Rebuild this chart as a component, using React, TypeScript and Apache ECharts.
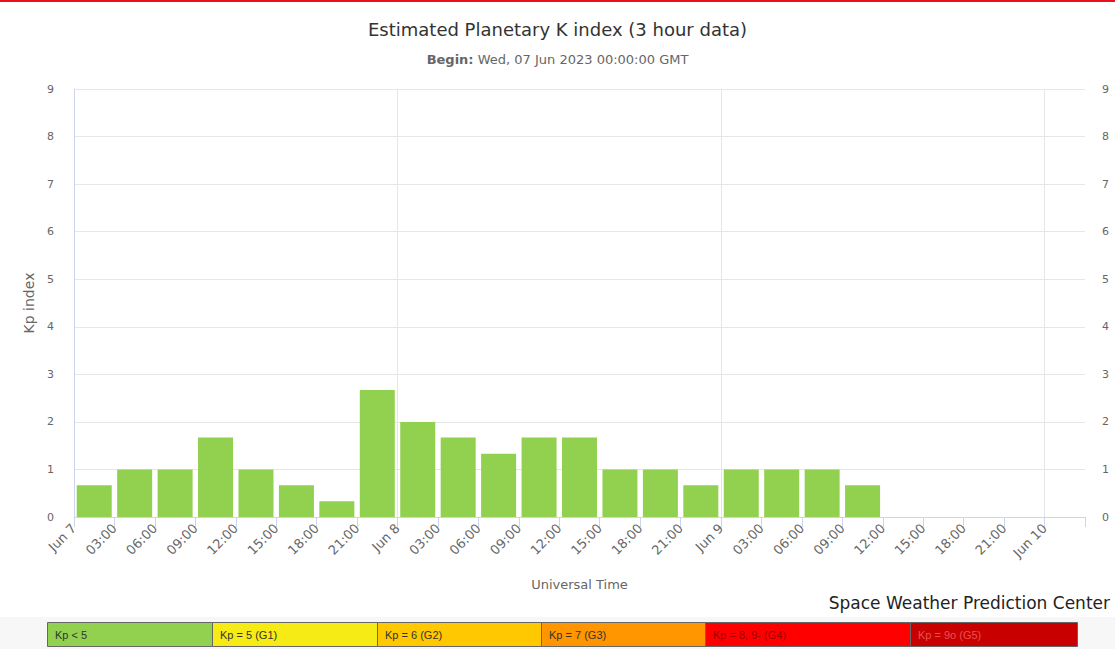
import React, { useEffect, useRef } from "react";
import * as echarts from "echarts";

const BEGIN = "2023-06-07T00:00:00Z";
const periodStarts = [
  "2023-06-07T00:00:00Z", "2023-06-07T03:00:00Z", "2023-06-07T06:00:00Z", "2023-06-07T09:00:00Z",
  "2023-06-07T12:00:00Z", "2023-06-07T15:00:00Z", "2023-06-07T18:00:00Z", "2023-06-07T21:00:00Z",
  "2023-06-08T00:00:00Z", "2023-06-08T03:00:00Z", "2023-06-08T06:00:00Z", "2023-06-08T09:00:00Z",
  "2023-06-08T12:00:00Z", "2023-06-08T15:00:00Z", "2023-06-08T18:00:00Z", "2023-06-08T21:00:00Z",
  "2023-06-09T00:00:00Z", "2023-06-09T03:00:00Z", "2023-06-09T06:00:00Z", "2023-06-09T09:00:00Z",
];
const kpValues = [
  0.67, 1, 1, 1.67, 1, 0.67, 0.33, 2.67,
  2, 1.67, 1.33, 1.67, 1.67, 1, 1, 0.67,
  1, 1, 1, 0.67,
];
const dayBoundaries = ["2023-06-08T00:00:00Z", "2023-06-09T00:00:00Z", "2023-06-10T00:00:00Z"];
const xTickLabels = [
  "Jun 7", "03:00", "06:00", "09:00", "12:00", "15:00", "18:00", "21:00",
  "Jun 8", "03:00", "06:00", "09:00", "12:00", "15:00", "18:00", "21:00",
  "Jun 9", "03:00", "06:00", "09:00", "12:00", "15:00", "18:00", "21:00",
  "Jun 10", "",
];
const yTickLabels = ["0", "1", "2", "3", "4", "5", "6", "7", "8", "9"];
const bandLabels = ["Kp < 5", "Kp = 5 (G1)", "Kp = 6 (G2)", "Kp = 7 (G3)", "Kp = 8, 9- (G4)", "Kp = 9o (G5)"];

const bandColors = ["#92d050", "#f6eb14", "#ffc800", "#ff9600", "#ff0000", "#c80000"];
const bandTextColors = ["#333333", "#333333", "#333333", "#333333", "#a00000", "#e85050"];
const bandEdges = [47, 212, 377, 541, 705, 910, 1077];

const HOUR = 3600000;

export default function App() {
  const ref = useRef<HTMLDivElement>(null);
  useEffect(() => {
    if (!ref.current) return;
    const chart = echarts.init(ref.current, undefined, { renderer: "svg" });
    const t0 = Date.parse(BEGIN);
    const barData = periodStarts.map((s, i) => [(Date.parse(s) - t0) / HOUR + 1.5, kpValues[i]]);
    const dayLines = dayBoundaries.map((s) => ({ xAxis: (Date.parse(s) - t0) / HOUR }));

    const bandGraphics: any[] = [];
    bandLabels.forEach((lab, i) => {
      const x0 = bandEdges[i];
      const x1 = bandEdges[i + 1];
      bandGraphics.push({
        type: "rect",
        shape: { x: x0 + 0.5, y: 622.5, width: x1 - x0, height: 24 },
        style: { fill: bandColors[i], stroke: "#666", lineWidth: 1 },
      });
      bandGraphics.push({
        type: "text",
        x: x0 + 8,
        y: 634.5,
        style: {
          text: lab,
          fill: bandTextColors[i],
          font: "11px 'Liberation Sans', Arial, sans-serif",
          verticalAlign: "middle",
        },
      });
    });

    const fontFam = "'DejaVu Sans', sans-serif";

    chart.setOption({
      animation: false,
      backgroundColor: "#ffffff",
      title: {
        text: "Estimated Planetary K index (3 hour data)",
        subtext: "{b|Begin:} Wed, 07 Jun 2023 00:00:00 GMT",
        left: "center",
        top: 15,
        itemGap: 15,
        textStyle: { fontFamily: fontFam, fontSize: 18, fontWeight: "normal", color: "#333333" },
        subtextStyle: {
          fontFamily: fontFam,
          fontSize: 13,
          color: "#666666",
          rich: { b: { fontFamily: fontFam, fontSize: 13, fontWeight: "bold", color: "#666666" } },
        },
      },
      grid: { left: 74, right: 30, top: 89, bottom: 132, containLabel: false },
      xAxis: {
        type: "value",
        min: 0,
        max: 75,
        interval: 3,
        name: "Universal Time",
        nameLocation: "middle",
        nameGap: 61,
        nameTextStyle: { fontFamily: fontFam, fontSize: 13, color: "#666666" },
        axisLine: { show: true, lineStyle: { color: "#ccd6eb", width: 1 } },
        axisTick: { show: true, length: 10, lineStyle: { color: "#ccd6eb" } },
        splitLine: { show: false },
        axisLabel: {
          rotate: 45,
          margin: 9,
          fontFamily: fontFam,
          fontSize: 13,
          color: "#666666",
          showMaxLabel: true,
          showMinLabel: true,
          formatter: (v: number) => xTickLabels[Math.round(v / 3)] ?? "",
        },
      },
      yAxis: [
        {
          type: "value",
          min: 0,
          max: 9,
          interval: 1,
          name: "Kp index",
          nameLocation: "middle",
          nameGap: 37,
          nameRotate: 90,
          nameTextStyle: { fontFamily: fontFam, fontSize: 14, color: "#666666" },
          axisLine: { show: true, lineStyle: { color: "#ccd6eb", width: 1 } },
          axisTick: { show: false },
          axisLabel: {
            margin: 20,
            fontFamily: fontFam,
            fontSize: 11,
            color: "#666666",
            formatter: (v: number) => yTickLabels[Math.round(v)] ?? "",
          },
          splitLine: { show: true, lineStyle: { color: "#e6e6e6", width: 1 } },
        },
        {
          type: "value",
          min: 0,
          max: 9,
          interval: 1,
          position: "right",
          axisLine: { show: false },
          axisTick: { show: false },
          splitLine: { show: false },
          axisLabel: {
            margin: 17,
            fontFamily: fontFam,
            fontSize: 11,
            color: "#666666",
            formatter: (v: number) => yTickLabels[Math.round(v)] ?? "",
          },
        },
      ],
      series: [
        {
          type: "bar",
          xAxisIndex: 0,
          yAxisIndex: 0,
          data: barData,
          barWidth: 35,
          itemStyle: { color: "#92d050" },
          markLine: {
            silent: true,
            symbol: "none",
            label: { show: false },
            z: 0,
            lineStyle: { color: "#e6e6e6", type: "solid", width: 1 },
            data: dayLines,
          },
        },
      ],
      graphic: [
        { type: "rect", shape: { x: 0, y: 0, width: 1115, height: 2 }, style: { fill: "#e8101a" } },
        { type: "rect", shape: { x: 0, y: 617, width: 1115, height: 32 }, style: { fill: "#f7f7f7" } },
        {
          type: "text",
          right: 5,
          top: 594,
          style: {
            text: "Space Weather Prediction Center",
            fill: "#222222",
            font: "17px 'DejaVu Sans', sans-serif",
          },
        },
        ...bandGraphics,
      ],
    });
    return () => chart.dispose();
  }, []);
  return (
    <div
      ref={ref}
      style={{ position: "fixed", left: 0, top: 0, width: 1115, height: 649 }}
    />
  );
}
